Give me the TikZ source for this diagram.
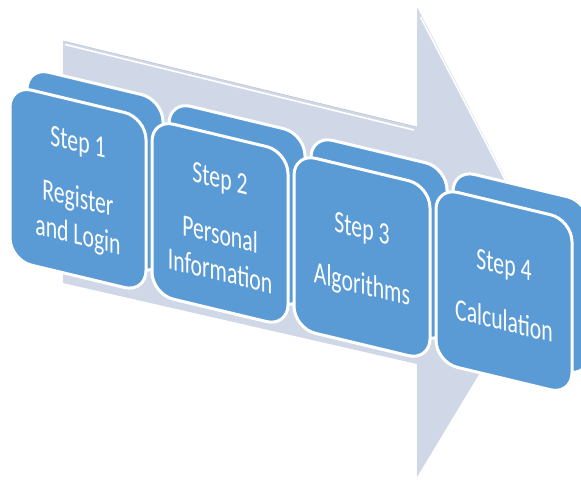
\documentclass[tikz,border=0pt]{standalone}
\usepackage{fontspec}
\setmainfont{Carlito}
\definecolor{boxblue}{HTML}{5B9BD5}
\definecolor{arrowgray}{HTML}{D0D8E8}
\begin{document}
\begin{tikzpicture}[x=1pt,y=-1pt,
  face/.style={fill=boxblue, draw=white, line width=3pt, rounded corners=22pt},
  steptext/.style={text=white, font=\fontsize{31}{37}\selectfont, align=center, xscale=0.7, inner sep=0pt},
  shaftline/.style={white, line width=1.6pt}]
\useasboundingbox (0,0) rectangle (581,480);
\fill[white] (0,0) rectangle (581,480);
% background arrow
\fill[arrowgray] (63,41) -- (417,127) -- (417,7) -- (548,260) -- (417,477) -- (417,364) -- (63,283) -- cycle;
\draw[arrowgray!90!black, line width=0.5pt] (63,41) -- (417,127);
\draw[shaftline] (65,44.5) -- (414,130);
\draw[shaftline] (420.5,17) -- (520,208);
% step boxes
\begin{scope}[yslant=-0.24, transform shape]
\foreach \i/\t in {1/{Register\\and Login},2/{Personal\\Information},3/{Algorithms},4/{Calculation}} {
  \pgfmathsetmacro\xo{10+142*(\i-1)}
  \path[face] (\xo+17,60.6) rectangle ++(136,175);
  \path[face] (\xo,82.6) rectangle ++(136,175);
  \node[steptext] (s\i) at (\xo+68,172) {Step \i\\[19pt]\t};
}
\end{scope}
\end{tikzpicture}
\end{document}
